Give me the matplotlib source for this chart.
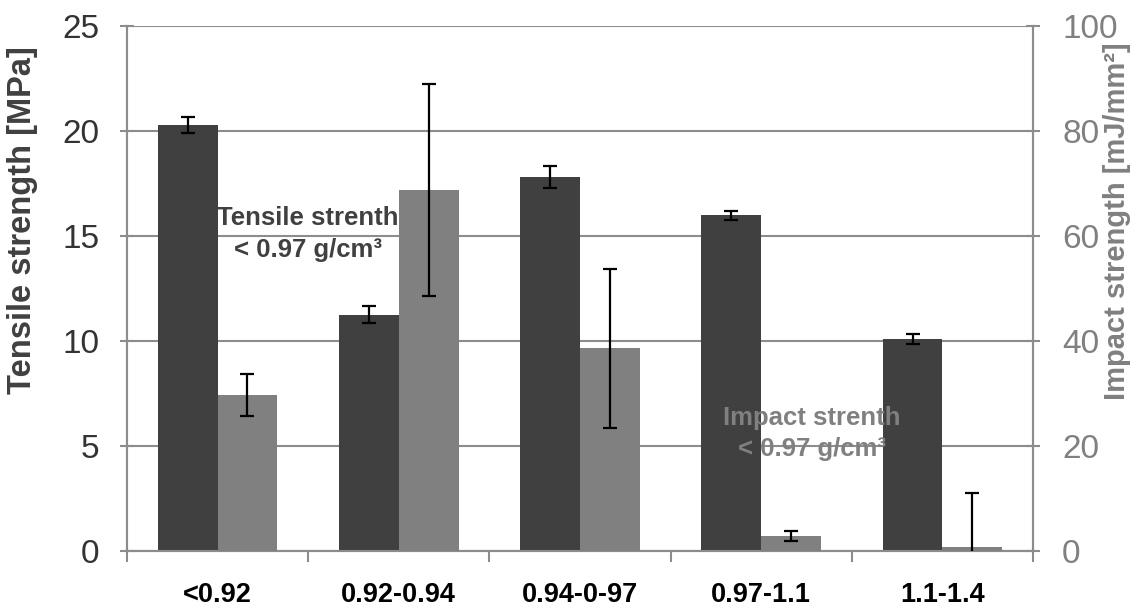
import numpy as np
import matplotlib
matplotlib.use("Agg")
import matplotlib.pyplot as plt
from matplotlib import font_manager
from matplotlib.ticker import FixedLocator

categories = ["<0.92", "0.92-0.94", "0.94-0-97", "0.97-1.1", "1.1-1.4"]
tensile = [20.3, 11.25, 17.8, 16.0, 10.1]
tensile_err = [0.38, 0.4, 0.52, 0.22, 0.22]
impact = [29.8, 68.8, 38.6, 2.9, 0.7]
impact_err = [4.0, 20.2, 15.2, 1.0, 10.3]

names = {f.name for f in font_manager.fontManager.ttflist}
narrow = "Liberation Sans Narrow" if "Liberation Sans Narrow" in names else "Liberation Sans"
plt.rcParams["font.family"] = ["Liberation Sans", "DejaVu Sans"]
# the narrow face is missing here, so shrink the regular bold to similar widths
lab_size = 22 if narrow.endswith("Narrow") else 19.5
note_size = 22 if narrow.endswith("Narrow") else 18.5

dark = "#404040"
light = "#808080"
gridc = "#8c8c8c"

fig = plt.figure(figsize=(11.42, 6.10), dpi=100)
ax = fig.add_axes([0.1112, 0.0967, 0.7934, 0.8603])
ax2 = ax.twinx()

x = np.arange(len(categories))
w = 0.33
err_kw = dict(ecolor="black", elinewidth=1.6, capsize=5, capthick=1.6)
ax.bar(x - w / 2, tensile, w, color=dark, yerr=tensile_err, error_kw=err_kw, zorder=3)
ax2.bar(x + w / 2, impact, w, color=light, yerr=impact_err, error_kw=err_kw, zorder=3)

ax.set_xlim(-0.5, len(categories) - 0.5)
ax.set_ylim(0, 25)
ax2.set_ylim(0, 100)
ax.set_yticks(np.arange(0, 26, 5))
ax2.set_yticks(np.arange(0, 101, 20))
ax.set_axisbelow(True)
ax.yaxis.grid(True, color=gridc, linewidth=1.5)

ax.set_xticks(x)
ax.set_xticklabels(categories, fontfamily=narrow, fontweight="bold", fontsize=lab_size)
ax.xaxis.set_minor_locator(FixedLocator(np.arange(-0.5, len(categories), 1.0)))
ax.tick_params(axis="x", which="major", length=0, pad=22)
ax.tick_params(axis="x", which="minor", length=8, width=1.5, color=gridc, direction="out")

for a in (ax, ax2):
    for s in a.spines.values():
        s.set_color(gridc)
        s.set_linewidth(1.5)
    a.spines["top"].set_visible(False)

ax.tick_params(axis="y", direction="inout", length=10, width=1.5, color=gridc,
               labelsize=24, labelcolor="#333333", pad=15)
ax2.tick_params(axis="y", direction="inout", length=10, width=1.5, color=gridc,
                labelsize=24, labelcolor=light, pad=16)

ax.set_ylabel("Tensile strength [MPa]", fontsize=23.5, fontweight="bold", color=dark)
ax.yaxis.set_label_coords(-0.098, 0.63)
ax2.set_ylabel("Impact strength [mJ/mm²]", fontsize=21, fontweight="bold", color=light,
               rotation=90)
ax2.yaxis.set_label_coords(1.077, 0.628)

ax2.text(0.5, 15.1, "Tensile strenth\n< 0.97 g/cm³", transform=ax.transData,
         ha="center", va="center", fontfamily=narrow, fontweight="bold", fontsize=note_size,
         color=dark, linespacing=1.4, zorder=5)
ax2.text(3.28, 5.6, "Impact strenth\n< 0.97 g/cm³", transform=ax.transData,
         ha="center", va="center", fontfamily=narrow, fontweight="bold", fontsize=note_size,
         color=light, linespacing=1.4, zorder=5)

fig.savefig("out.png", dpi=100)
